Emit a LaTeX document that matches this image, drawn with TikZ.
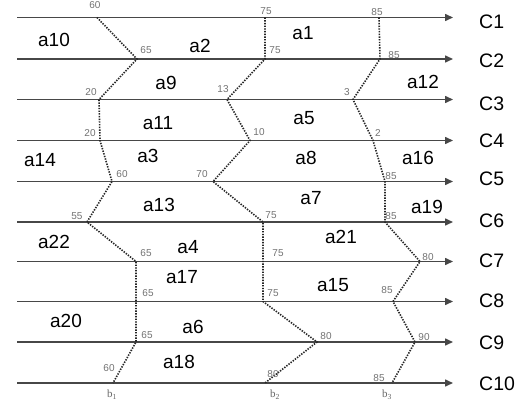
\documentclass[tikz,border=0pt]{standalone}
\usepackage{fontspec}
\setmainfont{Liberation Sans}
\newfontfamily\seriffont{Liberation Serif}
\usetikzlibrary{arrows.meta}
\begin{document}
\begin{tikzpicture}[x=1pt,y=-1pt,
 chan/.style={draw=black!72,line width=1.5pt,-{Triangle[length=8pt,width=7pt]}},
 cut/.style={line width=1.6pt,dash pattern=on 1.4pt off 1.3pt,black!85},
 region/.style={font=\fontsize{19}{20}\selectfont,inner sep=0pt},
 clab/.style={font=\fontsize{19.5}{20}\selectfont,inner sep=0pt,anchor=west},
 num/.style={font=\fontsize{10}{11}\selectfont,text=black!55,inner sep=0pt},
 blab/.style={font=\seriffont\fontsize{11}{12}\selectfont,text=black!60,inner sep=0pt}]
\useasboundingbox (0,0) rectangle (518,403);
\fill[white] (0,0) rectangle (518,403);
% channels and cut points
\foreach \k/\y/\cy/\a/\b/\c in {
 1/17.5/22/97/265/379,
 2/59/61/137/265/380,
 3/99.5/104/99/227/353,
 4/140.5/141/100/250/373,
 5/181.5/179/112/213/385,
 6/222/221/87/263/385,
 7/261.5/261/136/263/420,
 8/301.5/301/136/263/393,
 9/342/343/136/317/415,
 10/383/384/113/265/392} {
 \coordinate (L\k) at (17,\y);
 \coordinate (R\k) at (453,\y);
 \draw[chan] (L\k) -- (R\k);
 \node[clab] (C\k) at (479,\cy) {C\k};
 \coordinate (P\k) at (\a,\y);
 \coordinate (Q\k) at (\b,\y);
 \coordinate (S\k) at (\c,\y);
}
% cuts
\draw[cut] (P1) -- (P2) -- (P3) -- (P4) -- (P5) -- (P6) -- (P7) -- (P8) -- (P9) -- (P10);
\draw[cut] (Q1) -- (Q2) -- (Q3) -- (Q4) -- (Q5) -- (Q6) -- (Q7) -- (Q8) -- (Q9) -- (Q10);
\draw[cut] (S1) -- (S2) -- (S3) -- (S4) -- (S5) -- (S6) -- (S7) -- (S8) -- (S9) -- (S10);
% values at cut points
\foreach \n/\x/\y/\t in {
 p1/95/5/60, p2/146/50/65, p3/91/92/20, p4/90/133/20, p5/122/174/60,
 p6/77/216/55, p7/146/253/65, p8/148/293/65, p9/147/335/65, p10/109/368/60,
 q1/266/11/75, q2/275/50/75, q3/223/89/13, q4/259/132/10, q5/202/174/70,
 q6/271/215/75, q7/278/253/75, q8/273/293/75, q9/326/336/80, q10/273/374/80,
 s1/377/12/85, s2/394/55/85, s3/347/92/3, s4/378/133/2, s5/391/176/85,
 s6/391/216/85, s7/428/257/80, s8/387/290/85, s9/424/337/90, s10/379/378/85} {
 \node[num] (n\n) at (\x,\y) {\t};
}
\node[blab] (b1) at (112,395) {b\textsubscript{1}};
\node[blab] (b2) at (275,395) {b\textsubscript{2}};
\node[blab] (b3) at (387,395) {b\textsubscript{3}};
% region labels
\foreach \t/\x/\y in {
 a10/54/40, a2/200/46, a1/303/33, a9/166/83, a12/423/82,
 a11/158/123, a5/304/118, a14/40/160, a3/148/156, a8/306/158,
 a16/418/158, a13/159/205, a7/311/198, a19/427/207, a22/54/242,
 a4/188/247, a21/341/237, a17/182/277, a15/333/285, a20/66/321,
 a6/193/327, a18/179/362} {
 \node[region] (\t) at (\x,\y) {\t};
}
\end{tikzpicture}
\end{document}
